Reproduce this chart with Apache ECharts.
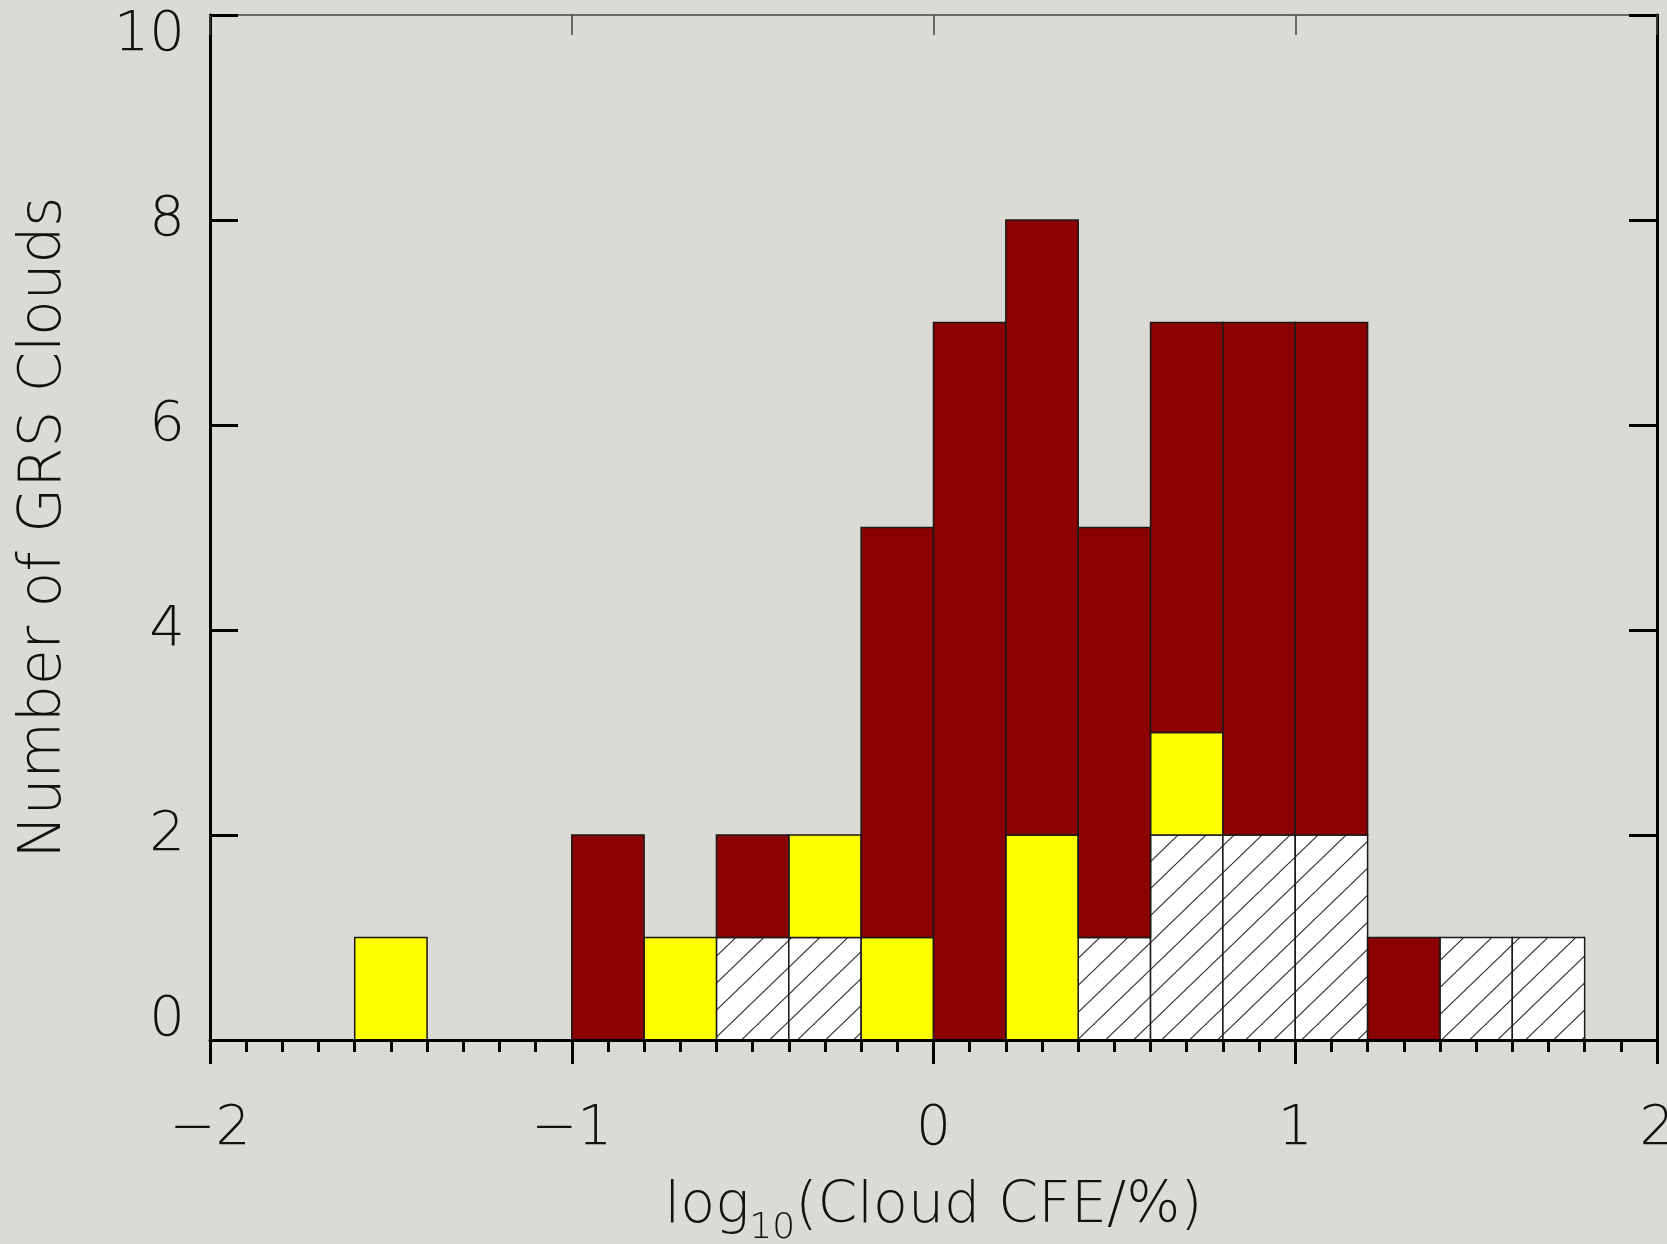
<!DOCTYPE html>
<html><head><meta charset="utf-8">
<script src="https://cdn.jsdelivr.net/npm/echarts@6/dist/echarts.min.js"></script>
<style>html,body{margin:0;padding:0;background:#dcdad5;} #c{width:1667px;height:1244px;}</style>
</head><body><div id="c"></div>
<script>
// ---- data ----
const binCenters = [-1.5,-1.3,-1.1,-0.9,-0.7,-0.5,-0.3,-0.1,0.1,0.3,0.5,0.7,0.9,1.1,1.3,1.5,1.7];
const binWidth = 0.2;
const hatchedCounts = [0,0,0,0,0,1,1,0,0,0,1,2,2,2,0,1,1];
const yellowCounts  = [1,0,0,0,1,0,1,1,0,2,0,1,0,0,0,0,0];
const redCounts     = [0,0,0,2,0,1,0,4,7,6,4,4,5,5,1,0,0];
const xTickValues = [-2,-1,0,1,2];
const yTickValues = [0,2,4,6,8,10];
const xTitle = '{a|log}{s|10}{a|(Cloud CFE/%)}';
const yTitle = 'Number of GRS Clouds';

// ---- build stacked segments ----
function segments(counts, bases){
  const out = [];
  counts.forEach((c,i)=>{
    if (c > 0) out.push([binCenters[i]-binWidth/2, binCenters[i]+binWidth/2, bases[i], bases[i]+c]);
  });
  return out;
}
const zeros = binCenters.map(()=>0);
const base2 = hatchedCounts.slice();
const base3 = hatchedCounts.map((v,i)=>v+yellowCounts[i]);
const hatchData = segments(hatchedCounts, zeros);
const yellowData = segments(yellowCounts, base2);
const redData = segments(redCounts, base3);

function makeHatch(){
  const w = 28, h = 27;
  const c = document.createElement('canvas'); c.width = w; c.height = h;
  const g = c.getContext('2d');
  g.fillStyle = '#ffffff'; g.fillRect(0,0,w,h);
  g.strokeStyle = '#333333'; g.lineWidth = 1.2;
  for (const dy of [-h,0,h]) { g.beginPath(); g.moveTo(0,h+dy); g.lineTo(w,dy); g.stroke(); }
  return c;
}
const hatchFill = {image: makeHatch(), repeat: 'repeat'};

function renderBar(fill){
  return function(params, api){
    const p0 = api.coord([api.value(0), api.value(2)]);
    const p1 = api.coord([api.value(1), api.value(3)]);
    return {type:'rect', shape:{x:p0[0], y:p1[1], width:p1[0]-p0[0], height:p0[1]-p1[1]},
      style:{fill: fill, stroke:'#1a1a1a', lineWidth:1.5}};
  };
}

const FONT = "'DejaVu Sans', sans-serif";
const fmtX = v => v < 0 ? '\u2212' + Math.abs(v) : String(v);

const chart = echarts.init(document.getElementById('c'), null, {renderer:'canvas'});
chart.setOption({
  backgroundColor: '#dcdad5',
  animation: false,
  grid: {left:210, right:10, top:15, bottom:204, containLabel:false, outerBoundsMode:'none'},
  xAxis: [{
    type:'value', position:'bottom', min:xTickValues[0], max:xTickValues[xTickValues.length-1], interval:1, z:10,
    axisLine:{show:true, onZero:false, lineStyle:{color:'#000', width:3}},
    axisTick:{show:true, inside:false, length:24, lineStyle:{color:'#000', width:3}},
    minorTick:{show:true, splitNumber:10, length:12, lineStyle:{color:'#000', width:3}},
    splitLine:{show:false}, minorSplitLine:{show:false},
    axisLabel:{margin:62, fontSize:55, fontFamily:FONT, fontWeight:200, color:'#111', formatter:fmtX, showMinLabel:true, showMaxLabel:true},
    name:xTitle, nameLocation:'middle', nameGap:139, nameMoveOverlap:false,
    nameTextStyle:{fontFamily:FONT, color:'#111', rich:{
      a:{fontSize:57, lineHeight:58, verticalAlign:'top', fontFamily:FONT, fontWeight:200, color:'#111'},
      s:{fontSize:36, lineHeight:100, verticalAlign:'middle', fontFamily:FONT, fontWeight:200, color:'#111'}
    }}
  },{
    type:'value', position:'top', min:xTickValues[0], max:xTickValues[xTickValues.length-1], interval:1, z:10,
    axisLine:{show:true, onZero:false, lineStyle:{color:'#444', width:1.5}},
    axisTick:{show:true, inside:true, length:20, lineStyle:{color:'#444', width:1.5}},
    axisLabel:{show:false}, splitLine:{show:false}
  }],
  yAxis: [{
    type:'value', position:'left', min:yTickValues[0], max:yTickValues[yTickValues.length-1], interval:2, z:10,
    axisLine:{show:true, onZero:false, lineStyle:{color:'#000', width:3}},
    axisTick:{show:true, inside:true, length:28, lineStyle:{color:'#000', width:3}},
    splitLine:{show:false},
    axisLabel:{margin:25, fontSize:56, lineHeight:40, fontFamily:FONT, fontWeight:200, color:'#111',
      verticalAlignMinLabel:'bottom', verticalAlignMaxLabel:'top'},
    name:yTitle, nameLocation:'middle', nameGap:136, nameRotate:90, nameMoveOverlap:false,
    nameTextStyle:{fontSize:58, fontFamily:FONT, fontWeight:200, color:'#111'}
  },{
    type:'value', position:'right', min:yTickValues[0], max:yTickValues[yTickValues.length-1], interval:2, z:10,
    axisLine:{show:true, onZero:false, lineStyle:{color:'#000', width:3}},
    axisTick:{show:true, inside:true, length:28, lineStyle:{color:'#000', width:3}},
    axisLabel:{show:false}, splitLine:{show:false}
  }],
  series: [
    {type:'custom', name:'hatched', renderItem:renderBar(hatchFill), data:hatchData, encode:{x:[0,1], y:[2,3]}},
    {type:'custom', name:'yellow', renderItem:renderBar('#ffff00'), data:yellowData, encode:{x:[0,1], y:[2,3]}},
    {type:'custom', name:'red', renderItem:renderBar('#8b0000'), data:redData, encode:{x:[0,1], y:[2,3]}}
  ]
});
</script></body></html>
